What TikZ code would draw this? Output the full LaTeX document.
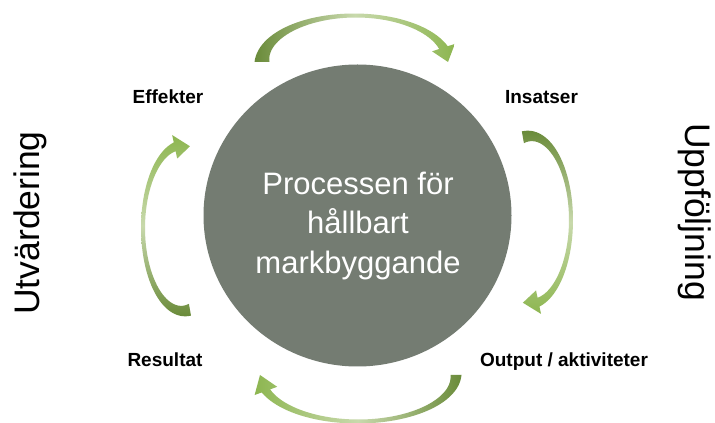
\documentclass[tikz,border=0pt]{standalone}
\usepackage{fontspec}
\setmainfont{Liberation Sans}
\definecolor{gdark}{RGB}{106,139,58}
\definecolor{glight}{RGB}{141,182,80}
\definecolor{gmid}{RGB}{200,217,172}
\definecolor{discgray}{RGB}{116,124,114}
% #1 cx, #2 cy, #3 rx, #4 ry, #5 start angle, #6 head-base angle, #7 tip angle, #8 base half width, #9 shading
\newcommand\garrow[9]{%
\begin{scope}[declare function={ss(\t)=(\t-(#5))/((#6)-(#5));
  wf(\t)=((0.475+0.45*#8)/0.2475)*ss(\t)*ss(\t)+(4.5-#8-(0.475+0.45*#8)/0.2475)*ss(\t)+#8;}]
\shade[#9] plot[domain=#5:#6,samples=50,variable=\t] ({#1+(#3+wf(\t))*cos(\t)},{#2+(#4+wf(\t))*sin(\t)})
 -- ({#1+(#3+12)*cos(#6)},{#2+(#4+12)*sin(#6)})
 -- ({#1+#3*cos(#7)},{#2+#4*sin(#7)})
 -- ({#1+(#3-12)*cos(#6)},{#2+(#4-12)*sin(#6)})
 -- plot[domain=#6:#5,samples=50,variable=\t] ({#1+(#3-wf(\t))*cos(\t)},{#2+(#4-wf(\t))*sin(\t)})
 -- cycle;
\end{scope}}
\begin{document}
\begin{tikzpicture}[x=1pt,y=1pt,
  lbl/.style={font=\fontsize{19}{22}\selectfont\bfseries,anchor=base,inner sep=0pt},
  side/.style={font=\fontsize{35.5}{40}\selectfont,inner sep=0pt}]
\useasboundingbox (0,0) rectangle (715,423);
\fill[white] (0,0) rectangle (715,423);
\clip (0,0) rectangle (715,423);
% disc
\coordinate (disc) at (357.5,207.5);
\fill[discgray] (disc) ellipse [x radius=154, y radius=151];
\node[align=center,text=white,font=\fontsize{31}{39.5}\selectfont,inner sep=0pt] (centre) at (358,197)
  {Processen för\\hållbart\\markbyggande};
% arrows
\garrow{355}{361}{93}{46.5}{180}{18}{0}{7.5}{left color=gdark,right color=glight,middle color=gmid}
\garrow{530}{203}{41}{84}{100}{-78}{-100}{6}{top color=gdark,bottom color=glight,middle color=gmid}
\garrow{358}{48}{98}{46.5}{0}{-160}{-180}{5.5}{right color=gdark,left color=glight,middle color=gmid}
\garrow{183}{195}{40}{83}{280}{102}{80}{6}{bottom color=gdark,top color=glight,middle color=gmid}
% labels
\node[lbl] (eff) at (168,319) {Effekter};
\node[lbl] (ins) at (541.5,319) {Insatser};
\node[lbl] (res) at (165,56) {Resultat};
\node[lbl] (out) at (564,56) {Output / aktiviteter};
\node[side,rotate=90] (utv) at (30,200) {Utvärdering};
\node[side,rotate=-90] (upp) at (695,211) {Uppföljning};
\end{tikzpicture}
\end{document}
